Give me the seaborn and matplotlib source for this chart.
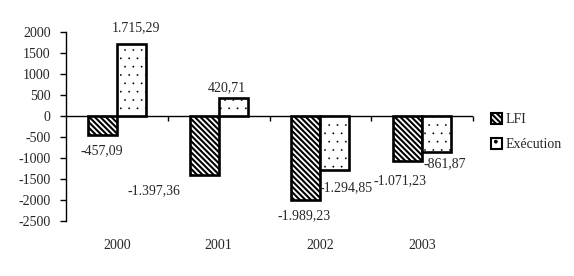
import matplotlib
matplotlib.use("Agg")
import matplotlib.pyplot as plt
import seaborn as sns
import pandas as pd
from matplotlib.patches import Patch

years = ["2000", "2001", "2002", "2003"]
series = ["LFI", "Exécution"]
lfi = [-457.09, -1397.36, -1989.23, -1071.23]
execution = [1715.29, 420.71, -1294.85, -861.87]
yticks = [2000, 1500, 1000, 500, 0, -500, -1000, -1500, -2000, -2500]

# label offsets in pixels (dx, dy) relative to bar end
lfi_off = [(-1, -15), (-50, -16), (-2, -16), (-8, -20)]
exe_off = [(5, 16), (-6, 11), (11, -17), (8, -11)]

sns.set_style("white")
plt.rcParams["font.family"] = ["Liberation Serif", "DejaVu Serif"]
plt.rcParams["hatch.linewidth"] = 1.5

df = pd.DataFrame({
    "year": years * 2,
    "serie": [series[0]] * 4 + [series[1]] * 4,
    "val": lfi + execution,
})

fig = plt.figure(figsize=(5.74, 2.76), dpi=100)
ax = fig.add_axes([66 / 574, 1 - 221 / 276, (473 - 66) / 574, (221 - 32) / 276])

sns.barplot(data=df, x="year", y="val", hue="serie", palette=["white", "white"],
            width=0.57, gap=0, edgecolor="black", linewidth=1.9, ax=ax, legend=False,
            saturation=1)

hatches = ["\\\\\\\\\\\\", ".."]
hatch_lw = [1.5, 0.1]
for cont, h, hl in zip(ax.containers, hatches, hatch_lw):
    for p in cont:
        p.set_hatch(h)
        p.set_facecolor("white")
        p.set_edgecolor("black")
        if hasattr(p, "set_hatch_linewidth"):
            p.set_hatch_linewidth(hl)


def fmt(v):
    s = f"{abs(v):,.2f}".replace(",", " ").replace(".", ",").replace(" ", ".")
    return ("-" if v < 0 else "") + s


for cont, vals, offs in zip(ax.containers, [lfi, execution], [lfi_off, exe_off]):
    for p, v, (dx, dy) in zip(cont, vals, offs):
        x = p.get_x() + p.get_width() / 2
        ax.annotate(fmt(v), (x, v), xytext=(dx, dy), textcoords="offset pixels",
                    ha="center", va="center", fontsize=10)

ax.set_ylim(-2500, 2000)
ax.set_xlim(-0.5, len(years) - 0.5)
ax.set_yticks(yticks)
ax.set_yticklabels([str(t) for t in yticks], fontsize=10)
ax.tick_params(axis="y", direction="out", length=4, width=1, color="black", pad=7, left=True)
ax.tick_params(axis="x", length=0, pad=13, labelsize=10)
ax.set_xlabel("")
ax.set_ylabel("")
for s in ["top", "right", "bottom"]:
    ax.spines[s].set_visible(False)
ax.spines["left"].set_color("black")
ax.spines["left"].set_linewidth(1)

ax.axhline(0, color="black", linewidth=1, zorder=0.5)
bounds = [i - 0.5 for i in range(len(years) + 1)]
ax.vlines(bounds[1:], -120, 0, color="black", linewidth=1, clip_on=False)

handles = []
for h, hl in zip(hatches, hatch_lw):
    pt = Patch(facecolor="white", edgecolor="black", hatch=h, linewidth=1.5)
    if hasattr(pt, "set_hatch_linewidth"):
        pt.set_hatch_linewidth(hl)
    handles.append(pt)
fig.legend(handles, series, loc="upper left", bbox_to_anchor=(0.845, 0.61),
           frameon=False, fontsize=10, handlelength=0.8, handleheight=0.8,
           handletextpad=0.3, labelspacing=0.85, borderaxespad=0)

fig.savefig("out.png", dpi=100)
